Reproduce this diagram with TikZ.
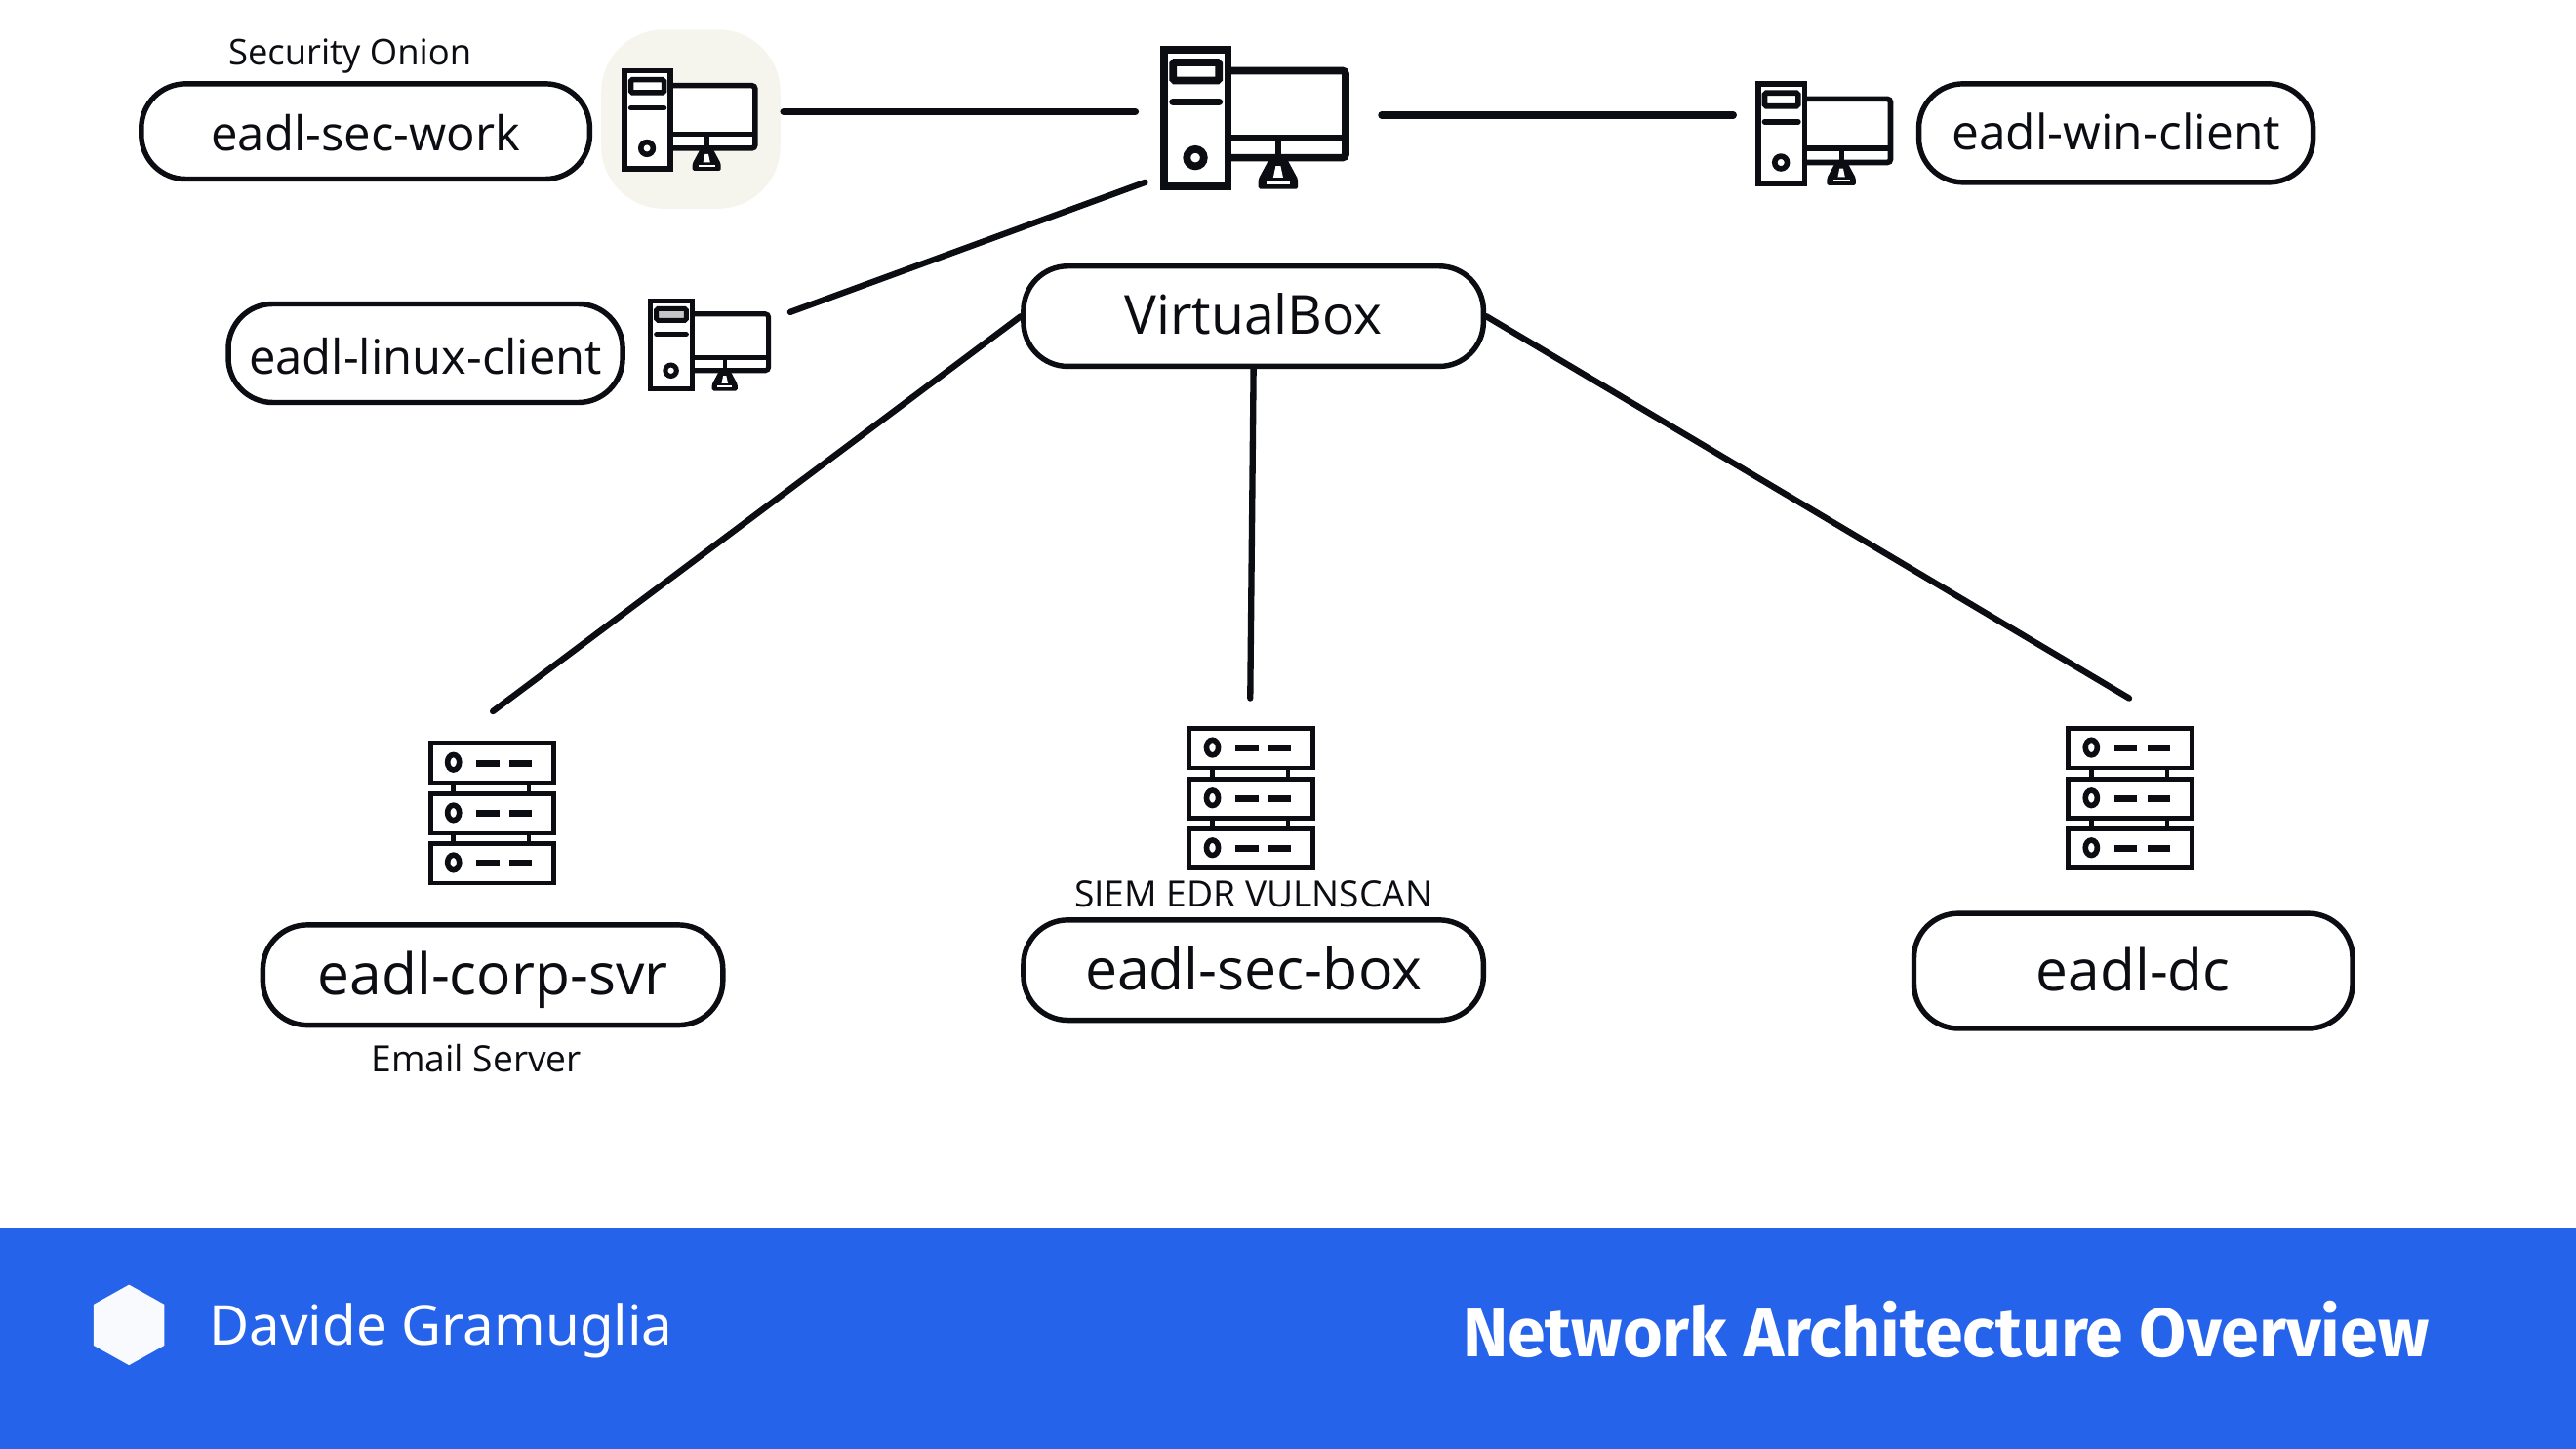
\documentclass[tikz,border=0pt]{standalone}
\usepackage{graphicx}
\usepackage{fontspec}
\setmainfont{Open Sans}
\newfontfamily\titlefont{Fira Sans}
\newfontfamily\footfont{Noto Sans}
\newlength{\uu}\setlength{\uu}{0.016837cm}
\newcommand{\tw}[2]{\resizebox{#1\uu}{!}{#2}}
\definecolor{ink}{HTML}{0B0D12}
\definecolor{barblue}{HTML}{2563EB}
\definecolor{cream}{HTML}{F6F5ED}
\tikzset{
  x=0.016837cm,y=-0.016837cm,
  pill/.style={draw=ink,line width=1.55pt,rounded corners=27\uu,fill=white,inner sep=0pt,text=ink,text height=24\uu,text depth=0pt,align=center},
  note/.style={inner sep=0pt,text=ink},
  link/.style={draw=ink,line width=1.8pt,line cap=round},
  toplink/.style={link,line width=2.1pt},
}
% tower-and-monitor icon: left x, top y, scale
\newcommand{\pcicon}[4][white]{%
  \begin{scope}[shift={(#2,#3)},scale=#4,line width=#4*2.2pt,draw=ink,line join=miter]
    \draw[rounded corners=2\uu,fill=white] (42,14) -- (112,14) -- (112,67) -- (42,67);
    \draw (42,55) -- (112,55);
    \fill[ink] (69,55) rectangle (73,68);
    \fill[ink,rounded corners=1\uu] (66,67) -- (76,67) -- (83,80) -- (83,86) -- (59,86) -- (59,80) -- cycle;
    \fill[white] (69.5,72) -- (72.5,72) -- (74,79) -- (68,79) -- cycle;
    \fill[white] (64,81) rectangle (78,83);
    \draw[fill=white] (1.5,1.5) rectangle (40.5,84.5);
    \draw[fill=#1,rounded corners=1\uu] (7,9) -- (35,9) -- (35,20) -- (7,20) -- cycle;
    \draw[line cap=round] (7,33) -- (35,33);
    \draw (20.6,67) circle [radius=5.2];
  \end{scope}}
% three-unit server icon: left x, top y
\newcommand{\srvicon}[2]{%
  \begin{scope}[shift={(#1,#2)},line width=1.35pt,draw=ink]
    \foreach \yy in {0,30.7,61}{
      \draw (1,\yy+1) rectangle (76,\yy+25);
      \draw[line width=1.6pt] (15,\yy+12.5) circle [x radius=3.6,y radius=4.6];
      \draw[line width=2pt] (29,\yy+13) -- (43,\yy+13);
      \draw[line width=2pt] (49,\yy+13) -- (62.7,\yy+13);
    }
    \foreach \yy in {25,55.7}{
      \draw[line width=1.3pt] (15,\yy) -- (15,\yy+5.5);
      \draw[line width=1.3pt] (61,\yy) -- (61,\yy+5.5);
    }
  \end{scope}}
\begin{document}
\begin{tikzpicture}
\useasboundingbox (0,0) rectangle (1568,882);
\fill[white] (0,0) rectangle (1568,882);

% footer
\fill[barblue] (0,748) rectangle (1568,882);
\fill[white!97!barblue] (78.5,782) -- (100,794) -- (100,819) -- (78.5,831) -- (57,819) -- (57,794) -- cycle;
\node[inner sep=0pt,anchor=base west,text=white] (author) at (127,819) {\footfont\tw{282}{Davide Gramuglia}};
\node[inner sep=0pt,anchor=base west,text=white] (title) at (890,826) {\resizebox{588\uu}{34\uu}{\titlefont\bfseries Network Architecture Overview}};

% highlight behind the first workstation
\fill[cream,rounded corners=38\uu] (366,18) rectangle (475,127);

% icons
\pcicon{707}{29}{1}
\pcicon{379}{42}{0.72}
\pcicon[gray!45]{395}{182}{0.65}
\pcicon{1069}{50}{0.73}
\srvicon{261}{451.5}
\srvicon{723}{442.5}
\srvicon{1258}{442.5}

% pills
\node[pill,minimum width=273\uu,minimum height=58\uu,text height=23\uu] (secwork) at (222.5,80) {\tw{188}{eadl-sec-work}};
\node[pill,minimum width=240\uu,minimum height=60\uu,text height=20\uu] (winclient) at (1288,81) {\tw{200}{eadl-win-client}};
\node[pill,minimum width=240\uu,minimum height=60\uu,text height=25\uu] (linuxclient) at (259,215) {\tw{215}{eadl-linux-client}};
\node[pill,minimum width=280\uu,minimum height=61\uu,text height=22\uu] (vbox) at (763,192.5) {\tw{157}{VirtualBox}};
\node[pill,minimum width=280\uu,minimum height=61\uu] (corpsvr) at (300,593.5) {\tw{213}{eadl-corp-svr}};
\node[pill,minimum width=280\uu,minimum height=61\uu] (secbox) at (763,590.5) {\tw{205}{eadl-sec-box}};
\node[pill,minimum width=267\uu,minimum height=70\uu] (dc) at (1298.5,591) {\tw{118}{eadl-dc}};

% small labels
\node[note] (onion) at (213,34) {\tw{148}{Security Onion}};
\node[note] (siem) at (763,544) {\tw{218}{SIEM EDR VULNSCAN}};
\node[note] (email) at (290,644) {\tw{128}{Email Server}};

% connector free ends
\coordinate (a1) at (477,68);   \coordinate (a2) at (691,68);
\coordinate (b1) at (841,70);   \coordinate (b2) at (1055,70);
\coordinate (c1) at (481,190);  \coordinate (c2) at (697,111);
\coordinate (corpend) at (300,433);
\coordinate (boxend) at (761,425);
\coordinate (dcend) at (1296,425);

% connectors
\draw[toplink] (a1) -- (a2);
\draw[toplink] (b1) -- (b2);
\draw[link] (c1) -- (c2);
\draw[link] (vbox.west) -- (corpend);
\draw[link] (vbox.south) -- (boxend);
\draw[link] (vbox.east) -- (dcend);
\end{tikzpicture}
\end{document}
